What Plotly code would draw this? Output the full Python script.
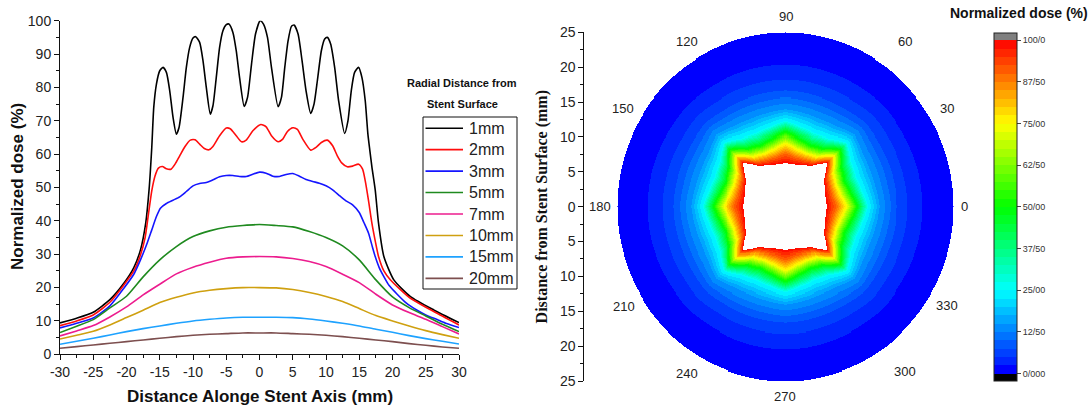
import numpy as np
import plotly.graph_objects as go

W, H = 1091, 410
FONT = "Liberation Sans, Arial, sans-serif"
SERIF = "Liberation Serif, Times New Roman, serif"

# ---------------- Left panel: dose along the stent axis ----------------
x_1mm = [-30, -27.5, -25, -22.5, -20.4, -18.9, -17.9, -17.1, -16.6, -16.2, -15.9, -15.5, -15.0, -14.5, -14.0,
         -13.5, -13.0, -12.5, -12.1, -11.5, -11.0, -10.5, -10.0, -9.6, -9.0, -8.5, -8.0, -7.4, -7.0, -6.5,
         -6.0, -5.5, -5.0, -4.6, -4.0, -3.5, -3.0, -2.3, -1.8, -1.2, -0.6, 0.1, 0.6, 1.2, 1.8,
         2.8, 3.3, 3.8, 4.3, 4.8, 5.2, 5.8, 6.4, 7.0, 7.7, 8.2, 8.7, 9.3, 9.8, 10.2,
         10.7, 11.3, 11.9, 12.8, 13.3, 13.8, 14.3, 14.9, 15.4, 15.9, 16.3, 16.6, 16.9, 17.4, 17.9,
         18.7, 20.2, 22.7, 26.2, 30]
y_1mm = [9.4, 10.8, 12.6, 16.4, 21.3, 26.0, 31.3, 39.5, 49.5, 62, 74, 81, 85, 86, 84.5,
         79, 71, 66, 68, 77, 86, 92, 94.8, 95.2, 93.5, 88, 80, 72, 74.5, 83,
         92, 97, 98.8, 99, 96.5, 91, 83, 74.3, 77, 87, 96, 100, 99, 95, 86,
         74.2, 77, 86, 94, 98.3, 98.7, 96, 88, 79, 72.2, 75, 82, 91, 94.5, 95,
         93, 86, 76, 66.2, 70, 79, 84.5, 86, 83, 76, 66, 61, 56.2, 49.3, 39.3,
         29.3, 22.3, 17.3, 13.3, 9.5]

x_2mm = [-30, -27.5, -25, -22.5, -20.4, -18.9, -17.9, -17.2, -16.7, -16.2, -15.7, -15.2, -14.6, -14.0, -13.3,
         -12.7, -12.0, -11.2, -10.4, -9.7, -9.0, -8.3, -7.6, -7.0, -6.0, -5.0, -4.4, -3.5, -2.7, -2.0,
         -1.0, 0.2, 1.0, 1.8, 2.8, 3.5, 4.2, 5.0, 5.7, 6.5, 7.7, 8.5, 9.3, 10.2, 11.0,
         11.7, 12.4, 13.2, 14.0, 14.9, 15.5, 15.9, 16.4, 16.9, 17.4, 17.9, 18.7, 19.7, 22.7, 26.7, 30]
y_2mm = [8.6, 10.0, 11.8, 15.6, 20.8, 25.0, 29.8, 35, 42, 49, 53.5, 55.8, 56.3, 55.6, 55.5,
         57, 59.5, 62.3, 64.2, 64.3, 63, 61.7, 61.3, 62.3, 65.5, 67.8, 67.6, 65.5, 63.7, 64.2,
         67, 68.9, 68.2, 65.5, 63.7, 64.5, 66.8, 67.9, 67.4, 64.5, 61.2, 62, 63.5, 64.2, 62.5,
         59.5, 57.3, 56.2, 56.4, 57.0, 55.5, 52, 46, 39.3, 34, 29.3, 25, 22.3, 16.8, 12.3, 8.8]

x_3mm = [-30, -27.5, -25, -22.5, -20.4, -18.9, -17.9, -16.9, -16.2, -15.5, -14.9, -14.0, -13.0, -12.0, -11.0,
         -10, -9, -8, -7, -6, -5, -4, -3, -2, -1, 0, 1, 2, 3, 4, 5, 6, 7, 8, 9, 10, 11, 12, 13, 14, 15,
         15.7, 16.4, 17.0, 17.4, 18.0, 18.7, 19.5, 20.7, 22.0, 23.7, 25.0, 26.7, 28.0, 30]
y_3mm = [7.9, 9.3, 10.9, 14.5, 19.8, 24.0, 28.3, 33.3, 37.3, 41.3, 43.8, 45.2, 46.2, 47.2, 48.8,
         50.5, 51.2, 51.5, 52.3, 53.2, 53.6, 53.6, 53.3, 53.3, 54.0, 54.6, 54.3, 53.4, 53.3, 53.9, 54.2,
         53.4, 52.4, 51.8, 51.3, 50.5, 49.3, 47.6, 46.0, 44.8, 42.5,
         39.5, 36.3, 32.0, 29.3, 26.0, 23.3, 20.6, 18.0, 15.5, 13.2, 11.8, 10.4, 9.3, 8.0]

x_far = [-30, -27.5, -25, -22.5, -20, -17.5, -15, -12.5, -10, -7.5, -5, -2.5, 0,
         2.5, 5, 7.5, 10, 12.5, 15, 17.5, 20, 22.5, 25, 27.5, 30]
y_5mm = [6.5, 8.4, 10.4, 13.9, 17.4, 23.2, 28.3, 32.3, 35.3, 37.0, 38.1, 38.6, 38.9,
         38.6, 38.2, 36.8, 35.0, 32.5, 28.3, 22.3, 17.2, 14.0, 11.5, 9.0, 6.8]
y_7mm = [5.5, 7.0, 8.6, 11.2, 14.2, 17.8, 21.0, 24.1, 26.1, 27.6, 28.8, 29.2, 29.3,
         29.2, 28.7, 27.8, 26.3, 24.0, 21.5, 18.0, 14.8, 12.5, 10.5, 8.3, 6.1]
y_10mm = [4.6, 5.7, 6.9, 8.8, 11.0, 13.2, 15.5, 17.1, 18.4, 19.2, 19.7, 20.0, 20.0,
          19.9, 19.4, 18.5, 17.3, 15.8, 13.7, 11.6, 10.0, 8.5, 7.1, 5.9, 4.8]
y_15mm = [3.0, 3.9, 4.8, 5.8, 6.8, 7.7, 8.5, 9.3, 10.0, 10.5, 10.9, 11.1, 11.1,
          11.1, 11.0, 10.6, 10.0, 9.3, 8.5, 7.5, 6.6, 5.6, 4.7, 3.9, 3.1]
y_20mm = [1.8, 2.3, 2.8, 3.3, 3.8, 4.3, 4.8, 5.3, 5.7, 6.0, 6.2, 6.4, 6.4,
          6.4, 6.2, 6.0, 5.7, 5.3, 4.8, 4.3, 3.8, 3.2, 2.7, 2.2, 1.8]

series_names = ["1mm", "2mm", "3mm", "5mm", "7mm", "10mm", "15mm", "20mm"]
series_x = [x_1mm, x_2mm, x_3mm, x_far, x_far, x_far, x_far, x_far]
series_y = [y_1mm, y_2mm, y_3mm, y_5mm, y_7mm, y_10mm, y_15mm, y_20mm]
series_colors = ["#000000", "#ff0d0d", "#1515ff", "#1f8a1f", "#ec1c8e", "#cfa010", "#1ea2ff", "#7d4f4f"]

x_tickvals = [-30, -25, -20, -15, -10, -5, 0, 5, 10, 15, 20, 25, 30]
x_ticktext = ["-30", "-25", "-20", "-15", "-10", "-5", "0", "5", "10", "15", "20", "25", "30"]

# ---------------- Right panel: polar dose map ----------------
dose_levels = [100, 90, 75, 50, 25, 15, 8, 3, 0.5]
key_angles_deg = [0, 11.25, 22.5, 33.75, 45]
iso_r_0deg = [6.2, 7.6, 9.1, 10.7, 12.3, 14.0, 16.3, 19.5, 24.0]
iso_r_11deg = [6.15, 7.2, 8.4, 9.9, 11.7, 13.7, 16.2, 19.5, 24.0]
iso_r_22deg = [6.4, 7.2, 8.2, 9.5, 11.4, 13.6, 16.2, 19.5, 24.0]
iso_r_34deg = [6.95, 7.6, 8.6, 10.0, 11.8, 13.8, 16.3, 19.5, 24.0]
iso_r_45deg = [8.8, 9.4, 10.3, 11.6, 13.0, 14.6, 16.6, 19.7, 24.0]
map_radius_mm = 25

angle_labels = ["0", "30", "60", "90", "120", "150", "180", "210", "240", "270", "300", "330"]
angle_label_theta = [0, 30.4, 53.0, 90, 121.6, 149.7, 180, 210.7, 238.6, 270, 306.9, 329.6]
angle_label_r = [26.6, 27.8, 29.6, 27.2, 27.8, 27.9, 27.5, 28.0, 28.0, 27.2, 29.6, 27.9]

cbar_tickvals = [0, 12.5, 25, 37.5, 50, 62.5, 75, 87.5, 100]
cbar_ticktext = ["0/000", "12/50", "25/00", "37/50", "50/00", "62/50", "75/00", "87/50", "100/0"]
polar_ytickvals = [-25, -20, -15, -10, -5, 0, 5, 10, 15, 20, 25]
polar_yticktext = ["25", "20", "15", "10", "5", "0", "5", "10", "15", "20", "25"]

# ---------------- Build dose field ----------------
N = 341
gx = np.linspace(-map_radius_mm, map_radius_mm, N)
gy = np.linspace(-map_radius_mm, map_radius_mm, N)
GX, GY = np.meshgrid(gx, gy)
R = np.hypot(GX, GY)
TH = np.degrees(np.arctan2(GY, GX)) % 90.0
TH = np.where(TH > 45, 90 - TH, TH)
iso = np.array([iso_r_0deg, iso_r_11deg, iso_r_22deg, iso_r_34deg, iso_r_45deg])
Rk = [np.interp(TH, key_angles_deg, iso[:, k]) for k in range(len(dose_levels))]
Z = np.full(R.shape, np.nan)
for k in range(len(dose_levels) - 1):
    r0, r1 = Rk[k], Rk[k + 1]
    m = (R >= r0) & (R < r1)
    t = (R - r0) / (r1 - r0)
    Z = np.where(m, dose_levels[k] + t * (dose_levels[k + 1] - dose_levels[k]), Z)
Z = np.where((R >= Rk[-1]) & (R <= map_radius_mm), dose_levels[-1], Z)
Z[R > map_radius_mm] = np.nan
Z = np.clip(Z, 0.01, 99.99)
z_list = [[None if np.isnan(v) else round(float(v), 2) for v in row] for row in Z]

# banded rainbow colour scale with out-of-range caps
def rainbow(v):
    if v <= 25:
        c = (0, 255 * v / 25, 255)
    elif v <= 50:
        c = (0, 255, 255 * (1 - (v - 25) / 25))
    elif v <= 75:
        c = (255 * (v - 50) / 25, 255, 0)
    else:
        c = (255, 255 * (1 - (v - 75) / 25), 0)
    return "rgb(%d,%d,%d)" % tuple(int(round(x)) for x in c)

zmin, zmax = -2.2, 102.2
def frac(v):
    return (v - zmin) / (zmax - zmin)

nb = 40
cscale = [[0.0, "rgb(0,0,0)"], [frac(0), "rgb(0,0,0)"]]
for i in range(nb):
    lo, hi = 100 * i / nb, 100 * (i + 1) / nb
    col = rainbow(lo if i == 0 else (lo + hi) / 2)
    cscale.append([frac(lo), col])
    cscale.append([frac(hi), col])
cscale.append([frac(100), "rgb(128,128,128)"])
cscale.append([1.0, "rgb(128,128,128)"])

# ---------------- Figure ----------------
fig = go.Figure()
for name, xs, ys, col in zip(series_names, series_x, series_y, series_colors):
    fig.add_trace(go.Scatter(x=xs, y=ys, name=name, mode="lines", showlegend=False,
                             line=dict(color=col, width=1.6, shape="spline", smoothing=0.6),
                             xaxis="x", yaxis="y"))

fig.add_trace(go.Heatmap(
    x=gx, y=gy, z=z_list, zmin=zmin, zmax=zmax, colorscale=cscale, zsmooth=False,
    xaxis="x2", yaxis="y2", showlegend=False, hoverinfo="skip",
    colorbar=dict(x=994 / W, xanchor="left", xpad=0, y=(H - 32.7) / H, yanchor="top", ypad=0,
                  len=348, lenmode="pixels", thickness=23, thicknessmode="pixels",
                  outlinecolor="#222", outlinewidth=1,
                  tickmode="array", tickvals=cbar_tickvals, ticktext=cbar_ticktext,
                  ticks="outside", ticklen=4, tickcolor="#444",
                  tickfont=dict(family=FONT, size=9, color="#333"))))

ax_common = dict(showline=True, linecolor="#111", linewidth=1, showgrid=False, zeroline=False,
                 ticks="outside", tickcolor="#111", ticklen=5, tickwidth=1, automargin=False,
                 tickfont=dict(family=FONT, size=14, color="#222"))

lx0, lx1 = 60 / W, 459 / W
ly0, ly1 = (H - 354.3) / H, (H - 20.7) / H
px0, px1 = 617.3 / W, 953.7 / W
py0, py1 = (H - 381) / H, (H - 32.3) / H

fig.update_layout(
    width=W, height=H, margin=dict(l=0, r=0, t=0, b=0, pad=0, autoexpand=False),
    paper_bgcolor="white", plot_bgcolor="rgba(0,0,0,0)",
    font=dict(family=FONT, color="#222"),
    showlegend=False,
    xaxis=dict(domain=[lx0, lx1], range=[-30, 30], anchor="y", tickmode="array",
               tickvals=x_tickvals, ticktext=x_ticktext,
               minor=dict(dtick=2.5, ticks="outside", ticklen=3, tickcolor="#111"), **ax_common),
    yaxis=dict(domain=[ly0, ly1], range=[0, 100], anchor="x", dtick=10,
               minor=dict(dtick=5, ticks="outside", ticklen=3, tickcolor="#111"), **ax_common),
    xaxis2=dict(domain=[px0, px1], range=[-map_radius_mm, map_radius_mm], anchor="y2", visible=False,
                automargin=False),
    yaxis2=dict(domain=[py0, py1], range=[-map_radius_mm, map_radius_mm], anchor="free",
                position=583.3 / W, side="left", tickmode="array",
                tickvals=polar_ytickvals, ticktext=polar_yticktext,
                minor=dict(dtick=2.5, ticks="outside", ticklen=3, tickcolor="#111"), **ax_common),
)

ann = []
shapes = []
def A(text, x, y, size, angle=0, bold=True, family=FONT, color="#111", xanchor="center"):
    ann.append(dict(text=("<b>%s</b>" % text) if bold else text, x=x / W, y=(H - y) / H,
                    xref="paper", yref="paper", showarrow=False, xanchor=xanchor, yanchor="middle",
                    textangle=angle, font=dict(family=family, size=size, color=color)))

A("Normalized dose (%)", 18, 187, 17, angle=-90)
A("Distance Alonge Stent Axis (mm)", 260, 396, 17)
A("Radial Distance from", 462, 83, 11)
A("Stent Surface", 462, 104, 11)
A("Distance from Stent Surface (mm)", 541.7, 206.7, 16, angle=-90, family=SERIF)
A("Normalized dose (%)", 1019, 13, 14)

# legend drawn as a framed key (box, line samples, labels)
leg_x0, leg_x1, leg_y0, leg_y1 = 423, 517, 117, 289
shapes.append(dict(type="rect", xref="paper", yref="paper", x0=leg_x0 / W, x1=leg_x1 / W,
                   y0=(H - leg_y1) / H, y1=(H - leg_y0) / H, line=dict(color="#111", width=1),
                   fillcolor="white", layer="above"))
for i, (name, col) in enumerate(zip(series_names, series_colors)):
    yy = 128.2 + i * 21.45
    shapes.append(dict(type="line", xref="paper", yref="paper", x0=425.5 / W, x1=463 / W,
                       y0=(H - yy) / H, y1=(H - yy) / H, line=dict(color=col, width=1.6), layer="above"))
    ann.append(dict(text=name, x=467 / W, y=(H - yy) / H, xref="paper", yref="paper", showarrow=False,
                    xanchor="left", yanchor="middle", font=dict(family=FONT, size=16, color="#222")))

for lab, th, rr in zip(angle_labels, angle_label_theta, angle_label_r):
    xm = rr * np.cos(np.radians(th))
    ym = rr * np.sin(np.radians(th))
    xp = px0 + (xm + map_radius_mm) / (2 * map_radius_mm) * (px1 - px0)
    yp = py0 + (ym + map_radius_mm) / (2 * map_radius_mm) * (py1 - py0)
    ann.append(dict(text=lab, x=xp, y=yp, xref="paper", yref="paper", showarrow=False,
                    xanchor="center", yanchor="middle", font=dict(family=FONT, size=13, color="#222")))

fig.update_layout(annotations=ann, shapes=shapes)
fig.write_html("out.html")
